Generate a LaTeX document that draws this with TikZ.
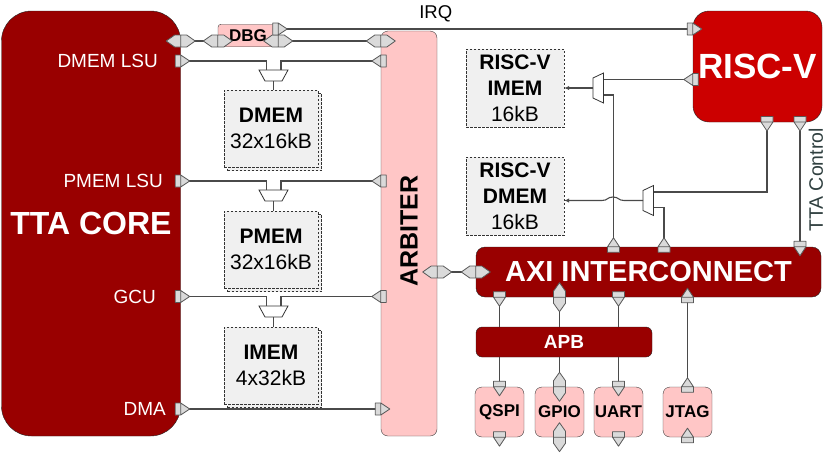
\documentclass[tikz,border=0pt]{standalone}
\usepackage{fontspec}
\setmainfont{Liberation Sans}
\usetikzlibrary{arrows.meta}

\definecolor{ttared}{HTML}{990000}
\definecolor{rvred}{HTML}{CC0000}
\definecolor{pinkbox}{HTML}{FFC6C6}
\definecolor{memgray}{HTML}{F0F0F0}
\definecolor{portgray}{HTML}{DADADA}
\definecolor{wiregray}{HTML}{4A4A4A}
\definecolor{ctlgray}{HTML}{2F3F3F}

\tikzset{
  darkblk/.style={draw=black!85, fill=ttared, text=white, font=\bfseries, inner sep=0pt},
  pinkblk/.style={draw=black!75, fill=pinkbox, inner sep=0pt, font=\bfseries\fontsize{17}{20}\selectfont},
  periph/.style={pinkblk, rounded corners=7pt, minimum width=49pt, minimum height=50pt},
  memblk/.style={draw=black!80, dash pattern=on 2.5pt off 1.5pt, fill=memgray, inner sep=0pt, align=center, font=\fontsize{21}{26}\selectfont},
  tmem/.style={memblk, minimum width=94pt, minimum height=77pt},
  rvmem/.style={memblk, minimum width=98pt, minimum height=78pt},
  lsulbl/.style={anchor=east, inner sep=0pt, text=white, font=\fontsize{19}{22}\selectfont},
  wire/.style={draw=wiregray, line width=1.1pt},
  portln/.style={draw=black!65, fill=portgray, line width=0.8pt, line join=round},
  muxln/.style={draw=black!80, fill=white, line width=0.8pt},
  % one way port, points along +x
  uport/.pic={\draw[portln] (-5.5,-6) -- (0,-6) -- (9,0) -- (0,6) -- (-5.5,6) -- cycle (0,-6) -- (0,6);},
  % two way port
  bport/.pic={\draw[portln] (-14.5,0) -- (-6,-6) -- (6,-6) -- (14.5,0) -- (6,6) -- (-6,6) -- cycle (0,-6) -- (0,6);},
  muxd/.pic={\draw[muxln] (-14.5,0) -- (14.5,0) -- (8.5,11) -- (-8.5,11) -- cycle;
    \coordinate (-l) at (-7,0); \coordinate (-r) at (7.5,0); \coordinate (-o) at (0,11);},
  muxl/.pic={\draw[muxln] (0,-10) -- (10.5,-15) -- (10.5,15) -- (0,10) -- cycle;
    \coordinate (-a) at (10.5,-8.5); \coordinate (-b) at (10.5,7); \coordinate (-o) at (0,0);}
}

\begin{document}
\begin{tikzpicture}[x=1pt,y=-1pt]
\useasboundingbox (0,0) rectangle (831,456);

% blocks
\node[darkblk, rounded corners=30pt, minimum width=179pt, minimum height=425pt, font=\bfseries\fontsize{32}{38}\selectfont] (tta) at (91,223.5) {TTA CORE};
\node[pinkblk, rounded corners=7pt, minimum width=56pt, minimum height=405pt] (arb) at (409,233.5) {};
\node[rotate=90, font=\bfseries\fontsize{25}{30}\selectfont] (arblbl) at (409,231) {ARBITER};
\node[pinkblk, rounded corners=3pt, minimum width=60pt, minimum height=22.5pt] (dbg) at (248,35.5) {DBG};
\node[darkblk, fill=rvred, rounded corners=16pt, minimum width=129pt, minimum height=111pt, font=\bfseries\fontsize{35}{40}\selectfont] (rv) at (757.5,66.5) {RISC-V};
\node[darkblk, rounded corners=9pt, minimum width=345pt, minimum height=50pt, font=\bfseries\fontsize{29}{34}\selectfont] (axi) at (648.5,272) {AXI INTERCONNECT};
\node[darkblk, rounded corners=6pt, minimum width=176pt, minimum height=30pt, font=\bfseries\fontsize{19}{22}\selectfont] (apb) at (564,342) {APB};
\node[periph] (qspi) at (499.5,412) {QSPI};
\node[periph] (gpio) at (559.5,412) {GPIO};
\node[periph] (uart) at (618.5,412) {UART};
\node[periph] (jtag) at (687.5,412) {JTAG};

% memories
\node[tmem] (dmemsh) at (274.5,132) {};
\node[tmem] (dmem) at (271,128.5) {\textbf{DMEM}\\32x16kB};
\node[tmem] (pmemsh) at (274.5,253) {};
\node[tmem] (pmem) at (271,249.5) {\textbf{PMEM}\\32x16kB};
\node[tmem] (imemsh) at (274.5,369) {};
\node[tmem] (imem) at (271,365.5) {\textbf{IMEM}\\4x32kB};
\node[rvmem] (rvimem) at (515,88) {\textbf{RISC-V}\\\textbf{IMEM}\\16kB};
\node[rvmem] (rvdmem) at (515,196) {\textbf{RISC-V}\\\textbf{DMEM}\\16kB};

% core ports
\node[lsulbl] (dmemlsu) at (158,61) {DMEM LSU};
\node[lsulbl] (pmemlsu) at (163,181) {PMEM LSU};
\node[lsulbl] (gcu) at (156,296.5) {GCU};
\node[lsulbl] (dma) at (166,409) {DMA};

\coordinate (dbgbus) at (200,41);
\coordinate (irq) at (300,29);
\coordinate (rvo1) at (767,122);
\coordinate (rvo2) at (800,122);

\pic (mxa) at (273.5,70) {muxd};
\pic (mxb) at (273.5,190) {muxd};
\pic (mxc) at (273.5,306) {muxd};
\pic (mxi) at (593,88) {muxl};
\pic (mxm) at (643,200.5) {muxl};

% debug and irq
\draw[wire] (tta.east |- dbgbus) -- (dbg.west |- dbgbus);
\draw[wire] (dbg.east |- dbgbus) -- (arb.west |- dbgbus);
\draw[wire] (dbg.east |- irq) -- (rv.west |- irq) node[pos=0.38, above=6pt, inner sep=0pt, font=\fontsize{18.5}{22}\selectfont] (irqlbl) {IRQ};

% tta memories
\draw[wire] (tta.east |- dmemlsu) -| (mxa-l);
\draw[wire] (arb.west |- dmemlsu) -| (mxa-r);
\draw[wire] (mxa-o) -- (mxa-o |- dmem.north);
\draw[wire] (tta.east |- pmemlsu) -| (mxb-l);
\draw[wire] (arb.west |- pmemlsu) -| (mxb-r);
\draw[wire] (mxb-o) -- (mxb-o |- pmem.north);
\draw[wire] (tta.east |- gcu) -| (mxc-l);
\draw[wire] (arb.west |- gcu) -| (mxc-r);
\draw[wire] (mxc-o) -- (mxc-o |- imem.north);
\draw[wire] (tta.east |- dma) -- (arb.west |- dma);

\draw[wire] (arb.east |- axi.west) -- (axi.west);

% risc-v memories
\draw[wire] (rv.west |- mxi-a) -- (mxi-a);
\draw[wire] (mxi-b) -- ++(10,0) coordinate (ja) -- (ja |- axi.north);
\draw[wire, -{Latex[length=5pt,width=4.5pt]}] (mxi-o) -- (rvimem.east |- mxi-o);
\draw[wire] (mxm-a) -| (rvo1);
\draw[wire] (mxm-b) -- ++(10.5,0) coordinate (jb) -- (jb |- axi.north);
\draw[wire, -{Latex[length=5pt,width=4.5pt]}] (mxm-o) -- ++(-19,0) .. controls +(-6,0) and +(6,0) .. ++(-11,-3.5) .. controls +(-6,0) and +(6,0) .. ++(-11,3.5) -- (rvdmem.east |- mxm-o);

\draw[wire] (rvo2) -- (rvo2 |- axi.north);
\node[rotate=90, inner sep=0pt, text=ctlgray, font=\fontsize{19.5}{23}\selectfont] (ttactl) at (816,180) {TTA Control};

% peripherals
\foreach \p in {qspi,gpio,uart} {
  \draw[wire] (\p |- axi.south) -- (\p |- apb.north);
  \draw[wire] (\p |- apb.south) -- (\p.north);
}
\draw[wire] (jtag.north) -- (jtag |- axi.south);

% ports
\pic at (tta.east |- dbgbus) {bport};
\pic at (dbg.west |- dbgbus) {bport};
\pic at (dbg.east |- dbgbus) {bport};
\pic at (arb.west |- dbgbus) {bport};
\pic at (dbg.east |- irq) {uport};
\pic at (rv.west |- irq) {uport};
\foreach \p in {dmemlsu,pmemlsu,gcu,dma}
  \pic at (tta.east |- \p) {uport};
\foreach \p in {dmemlsu,pmemlsu,gcu}
  \pic[rotate=180] at (arb.west |- \p) {uport};
\pic at (arb.west |- dma) {uport};
\pic at (arb.east |- axi.west) {bport};
\pic at (axi.west) {bport};
\pic[rotate=180] at (rv.west |- mxi-a) {uport};
\pic[rotate=-90] at (rvo1) {uport};
\pic[rotate=-90] at (rvo2) {uport};
\pic[rotate=90] at (ja |- axi.north) {uport};
\pic[rotate=90] at (jb |- axi.north) {uport};
\pic[rotate=-90] at (rvo2 |- axi.north) {uport};
\foreach \p in {qspi,uart} {
  \pic[rotate=-90] at (\p |- axi.south) {uport};
  \pic[rotate=-90] at (\p.north) {uport};
  \pic[rotate=-90] at (\p.south) {uport};
}
\pic[rotate=90] at (gpio |- axi.south) {bport};
\pic[rotate=90] at (gpio.north) {bport};
\pic[rotate=90] at (gpio.south) {bport};
\pic[rotate=90] at (jtag |- axi.south) {uport};
\pic[rotate=90] at (jtag.north) {uport};
\pic[rotate=90] at (jtag.south) {uport};
\end{tikzpicture}
\end{document}
